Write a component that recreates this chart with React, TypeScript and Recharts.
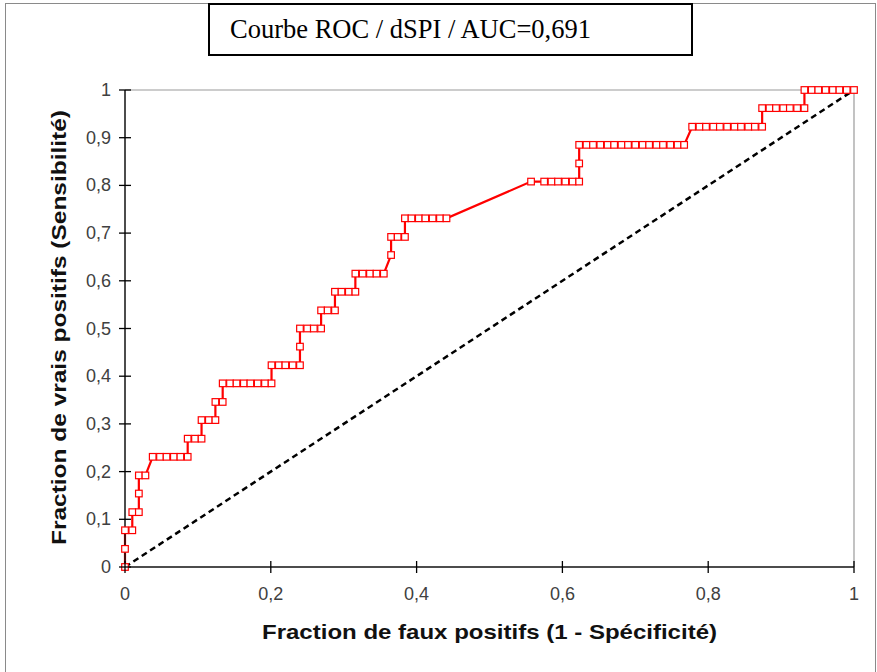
import React from 'react';
import { LineChart, Line, XAxis, YAxis, ReferenceLine } from 'recharts';

// ROC points (false positive fraction, true positive fraction)
const fpr = [
  0, 0, 0, 0.01, 0.01, 0.019, 0.019, 0.019, 0.028,
  0.038, 0.048, 0.057, 0.067, 0.076, 0.086,
  0.086, 0.096, 0.105,
  0.105, 0.115, 0.124,
  0.124, 0.134,
  0.134, 0.144, 0.153, 0.163, 0.172, 0.182, 0.192, 0.201,
  0.201, 0.211, 0.22, 0.23, 0.24,
  0.24,
  0.24, 0.25, 0.259, 0.269,
  0.269, 0.278, 0.288,
  0.288, 0.297, 0.307, 0.316,
  0.316, 0.326, 0.336, 0.345, 0.355,
  0.365,
  0.365, 0.374, 0.384,
  0.384, 0.393, 0.403, 0.412, 0.422, 0.432, 0.441,
  0.557, 0.575, 0.585, 0.594, 0.604, 0.614, 0.623,
  0.623,
  0.623, 0.633, 0.642, 0.652, 0.662, 0.671, 0.681, 0.69, 0.7, 0.71, 0.719, 0.729, 0.738, 0.748, 0.758, 0.767,
  0.778, 0.788, 0.797, 0.807, 0.816, 0.826, 0.836, 0.845, 0.855, 0.864, 0.874,
  0.874, 0.884, 0.893, 0.903, 0.912, 0.922, 0.932,
  0.932, 0.942, 0.951, 0.961, 0.971, 0.98, 0.99, 1,
];
const tpr = [
  0, 0.038, 0.077, 0.077, 0.115, 0.115, 0.154, 0.192, 0.192,
  0.231, 0.231, 0.231, 0.231, 0.231, 0.231,
  0.269, 0.269, 0.269,
  0.308, 0.308, 0.308,
  0.346, 0.346,
  0.385, 0.385, 0.385, 0.385, 0.385, 0.385, 0.385, 0.385,
  0.423, 0.423, 0.423, 0.423, 0.423,
  0.462,
  0.5, 0.5, 0.5, 0.5,
  0.538, 0.538, 0.538,
  0.577, 0.577, 0.577, 0.577,
  0.615, 0.615, 0.615, 0.615, 0.615,
  0.654,
  0.692, 0.692, 0.692,
  0.731, 0.731, 0.731, 0.731, 0.731, 0.731, 0.731,
  0.808, 0.808, 0.808, 0.808, 0.808, 0.808, 0.808,
  0.846,
  0.885, 0.885, 0.885, 0.885, 0.885, 0.885, 0.885, 0.885, 0.885, 0.885, 0.885, 0.885, 0.885, 0.885, 0.885, 0.885,
  0.923, 0.923, 0.923, 0.923, 0.923, 0.923, 0.923, 0.923, 0.923, 0.923, 0.923,
  0.962, 0.962, 0.962, 0.962, 0.962, 0.962, 0.962,
  1, 1, 1, 1, 1, 1, 1, 1,
];
const diagonal = [
  { x: 0, y: 0 },
  { x: 1, y: 1 },
];
const xTicks = [0, 0.2, 0.4, 0.6, 0.8, 1];
const yTicks = [0, 0.1, 0.2, 0.3, 0.4, 0.5, 0.6, 0.7, 0.8, 0.9, 1];
const title = 'Courbe ROC / dSPI / AUC=0,691';
const xLabel = 'Fraction de faux positifs (1 - Spécificité)';
const yLabel = 'Fraction de vrais positifs (Sensibilité)';

const data = fpr.map((x, i) => ({ fpr: x, tpr: tpr[i] }));

const fmt = (v: number) => String(v).replace('.', ',');
const TICK = 6;
const LABEL_FONT = '"Liberation Sans", Arial, sans-serif';

const SquareDot = (props: any) => {
  const { cx, cy, index } = props;
  if (cx == null || cy == null) return null;
  return (
    <rect
      key={`d${index}`}
      x={cx - 3.3}
      y={cy - 3.3}
      width={6.6}
      height={6.6}
      fill="#ffffff"
      stroke="#ff0000"
      strokeWidth={1.2}
    />
  );
};

const XTick = (props: any) => {
  const { x, y, payload } = props;
  return (
    <g>
      <line x1={x} x2={x} y1={y - 2 * TICK} y2={y} stroke="#000" strokeWidth={1.3} />
      <text x={x} y={y + 27} textAnchor="middle" fontSize={18} fill="#404040" fontFamily={LABEL_FONT}>
        {fmt(payload.value)}
      </text>
    </g>
  );
};

const YTick = (props: any) => {
  const { x, y, payload } = props;
  return (
    <g>
      <line x1={x} x2={x + 2 * TICK} y1={y} y2={y} stroke="#000" strokeWidth={1.3} />
      <text x={x - 8} y={y + 6} textAnchor="end" fontSize={18} fill="#404040" fontFamily={LABEL_FONT}>
        {fmt(payload.value)}
      </text>
    </g>
  );
};

export default function App() {
  return (
    <div style={{ position: 'absolute', left: 0, top: 0, width: 877, height: 672, background: '#fff', overflow: 'hidden' }}>
      <div
        style={{
          position: 'absolute',
          left: 5,
          top: 3,
          width: 871,
          height: 700,
          border: '1px solid #8a8a8a',
          boxSizing: 'border-box',
        }}
      />
      <div style={{ position: 'absolute', left: 0, top: 0 }}>
        <LineChart
          width={877}
          height={672}
          data={data}
          margin={{ top: 90, right: 23, bottom: 75, left: 65 }}
        >
          <XAxis
            dataKey="fpr"
            type="number"
            domain={[0, 1]}
            ticks={xTicks}
            interval={0}
            height={30}
            tickSize={TICK}
            tickMargin={0}
            tickLine={false}
            tick={<XTick />}
            axisLine={{ stroke: '#111', strokeWidth: 1.5 }}
          />
          <YAxis
            dataKey="tpr"
            type="number"
            domain={[0, 1]}
            ticks={yTicks}
            interval={0}
            width={60}
            tickSize={TICK}
            tickMargin={0}
            tickLine={false}
            tick={<YTick />}
            axisLine={{ stroke: '#111', strokeWidth: 1.5 }}
          />
          <ReferenceLine y={1} stroke="#9a9a9a" strokeWidth={1.2} />
          <ReferenceLine x={1} stroke="#9a9a9a" strokeWidth={1.2} />
          <ReferenceLine
            segment={diagonal}
            stroke="#000"
            strokeWidth={2.5}
            strokeDasharray="6 4"
          />
          <Line
            dataKey="tpr"
            type="linear"
            stroke="#ff0000"
            strokeWidth={2.2}
            dot={<SquareDot />}
            activeDot={false}
            isAnimationActive={false}
          />
          <text
            x={489.5}
            y={639}
            textAnchor="middle"
            fontSize={21}
            fontWeight="bold"
            fill="#111"
            fontFamily={LABEL_FONT}
            textLength={455}
            lengthAdjust="spacingAndGlyphs"
          >
            {xLabel}
          </text>
          <text
            x={66}
            y={327.5}
            textAnchor="middle"
            fontSize={21}
            fontWeight="bold"
            fill="#111"
            fontFamily={LABEL_FONT}
            transform="rotate(-90 66 327.5)"
            textLength={435}
            lengthAdjust="spacingAndGlyphs"
          >
            {yLabel}
          </text>
        </LineChart>
      </div>
      <div
        style={{
          position: 'absolute',
          left: 208,
          top: 3,
          width: 485,
          height: 53,
          border: '2px solid #000',
          boxSizing: 'border-box',
          background: '#fff',
          fontFamily: '"Liberation Serif", "Times New Roman", serif',
          fontSize: 26.5,
          lineHeight: '49px',
          paddingLeft: 20,
          color: '#000',
          whiteSpace: 'nowrap',
        }}
      >
        {title}
      </div>
    </div>
  );
}
